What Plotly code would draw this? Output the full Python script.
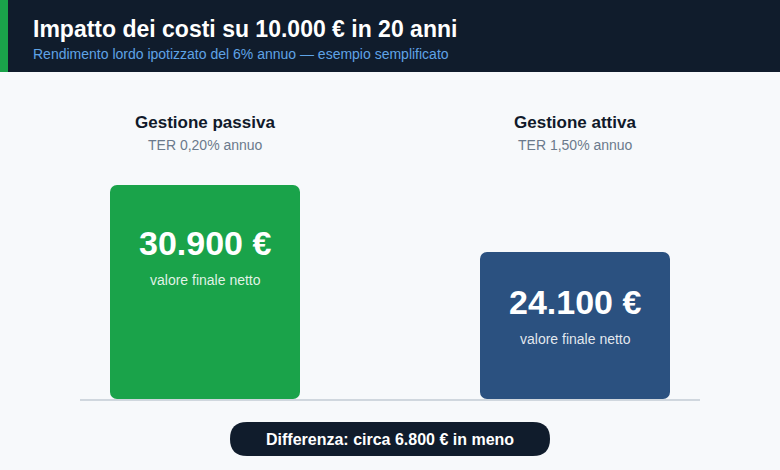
import plotly.graph_objects as go

# ---- data ----
categories = ["Gestione passiva", "Gestione attiva"]
ter_labels = ["TER 0,20% annuo", "TER 1,50% annuo"]
final_values = [30900, 24100]
bar_colors = ["#1aa34a", "#2b5180"]
title_text = "Impatto dei costi su 10.000 € in 20 anni"
subtitle_text = "Rendimento lordo ipotizzato del 6% annuo — esempio semplificato"
value_caption = "valore finale netto"

W, H = 780, 470
ML, MR, MT, MB = 80, 80, 80, 71
PW, PH = W - ML - MR, H - MT - MB

BASE = 9200
K = 214 / (max(final_values) - BASE)  # px per unit
YTOP = BASE + PH / K

def fmt(v):
    return f"{v:,.0f}".replace(",", ".")

def px(xp):
    return (xp - ML) / PW

def py(yp):
    return (H - MB - yp) / PH

FONT = "Liberation Sans, Arial, sans-serif"

fig = go.Figure()
fig.add_trace(go.Bar(
    x=[0, 1], y=[v - BASE for v in final_values], base=BASE,
    marker=dict(color=bar_colors, cornerradius=7, line=dict(width=0)),
    width=190 / 370, hoverinfo="skip",
))

shapes = []
# header band
shapes.append(dict(type="rect", xref="paper", yref="paper",
                   x0=px(0), x1=px(W), y0=py(72), y1=py(0),
                   fillcolor="#101c2c", line=dict(width=0), layer="below"))
shapes.append(dict(type="rect", xref="paper", yref="paper",
                   x0=px(0), x1=px(8), y0=py(72), y1=py(0),
                   fillcolor="#1aa34a", line=dict(width=0), layer="below"))
# pill
x0p, x1p, y0p, y1p, r = 230, 550, 422, 456, 17
def P(xp, yp):
    return f"{px(xp)},{py(yp)}"
path = (f"M {P(x0p + r, y0p)} L {P(x1p - r, y0p)} "
        f"Q {P(x1p, y0p)} {P(x1p, y0p + r)} Q {P(x1p, y1p)} {P(x1p - r, y1p)} "
        f"L {P(x0p + r, y1p)} Q {P(x0p, y1p)} {P(x0p, y0p + r)} "
        f"Q {P(x0p, y0p)} {P(x0p + r, y0p)} Z")
shapes.append(dict(type="path", xref="paper", yref="paper", path=path,
                   fillcolor="#101c2c", line=dict(width=0)))

ann = []
ann.append(dict(text=f"<b>{title_text}</b>", x=px(31), y=py(29), xref="paper", yref="paper",
                xanchor="left", yanchor="middle", showarrow=False,
                font=dict(size=23, color="white", family=FONT)))
ann.append(dict(text=subtitle_text, x=px(31), y=py(54), xref="paper", yref="paper",
                xanchor="left", yanchor="middle", showarrow=False,
                font=dict(size=14, color="#5fa3e6", family=FONT)))

value_shift = [58, 50]
for i, (cat, ter, v) in enumerate(zip(categories, ter_labels, final_values)):
    ann.append(dict(text=f"<b>{cat}</b>", x=i, y=py(122), xref="x", yref="paper",
                    yanchor="middle", showarrow=False,
                    font=dict(size=17, color="#111a2a", family=FONT)))
    ann.append(dict(text=ter, x=i, y=py(145), xref="x", yref="paper",
                    yanchor="middle", showarrow=False,
                    font=dict(size=14, color="#6b7a8c", family=FONT)))
    ann.append(dict(text=f"<b>{fmt(v)} €</b>", x=i, y=v, xref="x", yref="y",
                    yanchor="middle", yshift=-value_shift[i], showarrow=False,
                    font=dict(size=34, color="white", family=FONT)))
    ann.append(dict(text=value_caption, x=i, y=v, xref="x", yref="y",
                    yanchor="middle", yshift=-value_shift[i] - 37, showarrow=False,
                    font=dict(size=14, color="rgba(255,255,255,0.88)", family=FONT)))

diff = final_values[0] - final_values[1]
ann.append(dict(text=f"<b>Differenza: circa {fmt(diff)} € in meno</b>", x=px(390), y=py(439),
                xref="paper", yref="paper", showarrow=False, yanchor="middle",
                font=dict(size=16, color="white", family=FONT)))

fig.update_layout(
    width=W, height=H, margin=dict(l=ML, r=MR, t=MT, b=MB, pad=0),
    paper_bgcolor="#f7f9fb", plot_bgcolor="#f7f9fb",
    showlegend=False, shapes=shapes, annotations=ann,
    xaxis=dict(range=[-125 / 370, 1 + 125 / 370], showticklabels=False, showgrid=False,
               zeroline=False, showline=True, linecolor="#d0d7de", linewidth=2, ticks=""),
    yaxis=dict(range=[BASE, YTOP], visible=False, showgrid=False, zeroline=False),
    font=dict(family=FONT),
)
fig.write_html("out.html", config={"displayModeBar": False})
